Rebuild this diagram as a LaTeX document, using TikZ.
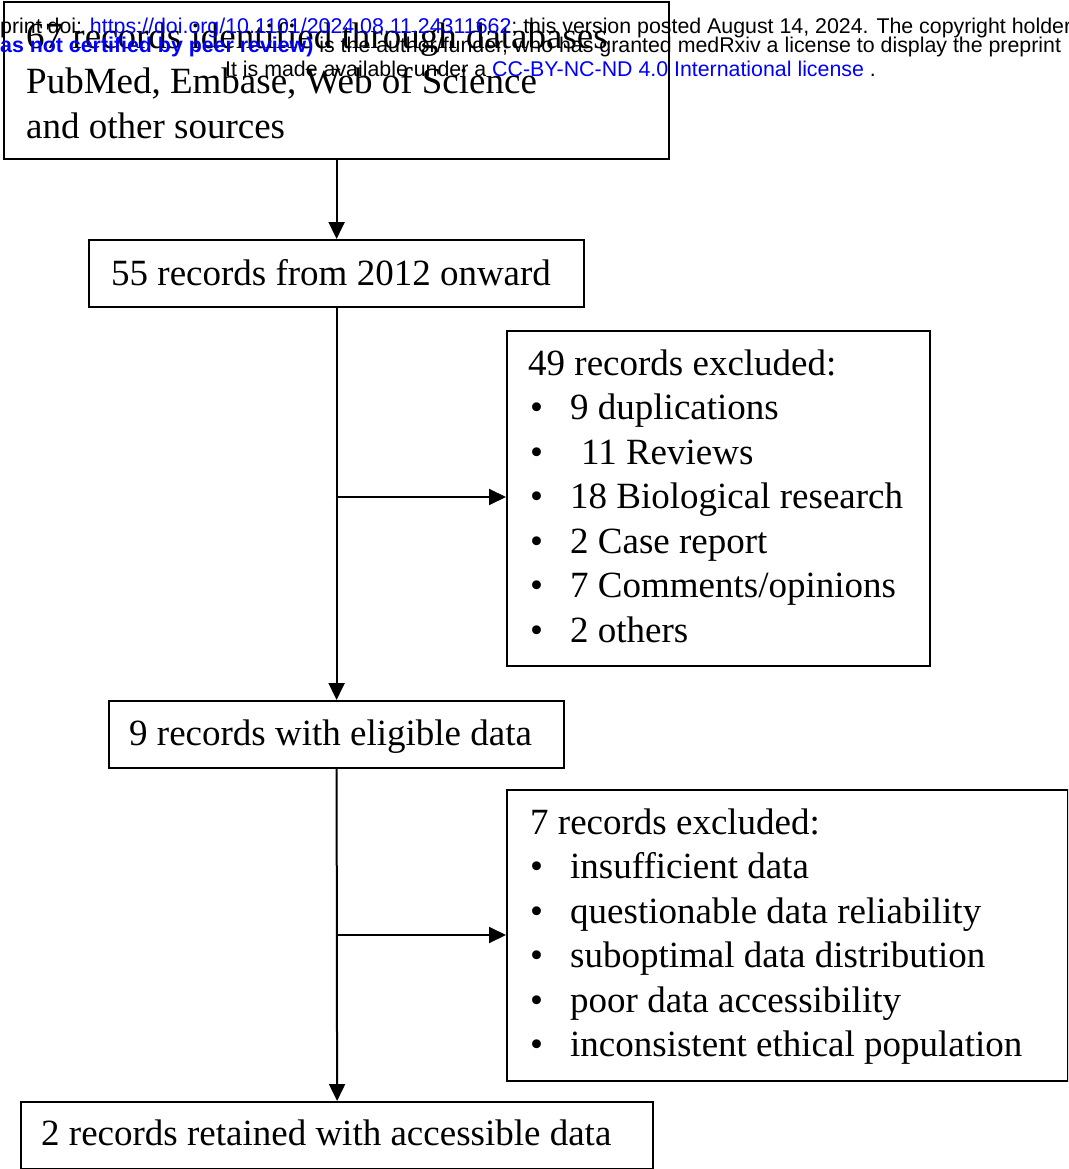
\documentclass[tikz,border=0pt]{standalone}
\usepackage{fontspec}
\setmainfont{Liberation Serif}
\newfontfamily\wmfont{Liberation Sans}
\usetikzlibrary{arrows.meta}
\definecolor{wmblue}{RGB}{0,0,255}
\begin{document}
\begin{tikzpicture}[x=1pt,y=-1pt,
  box/.style={draw, line width=2.2pt, rectangle, anchor=north west, inner sep=0pt},
  txt/.style={anchor=base west, inner sep=0pt, font=\fontsize{37}{44}\selectfont},
  arr/.style={line width=2pt, -{Triangle[length=17pt,width=16pt]}},
  wm/.style={anchor=base west, inner sep=0pt, font=\wmfont\fontsize{21.35}{24}\selectfont}]
\useasboundingbox (0,0) rectangle (1068,1169);
\begin{scope}
\clip (0,0) rectangle (1068,1169);
% boxes
\node[box, minimum width=665pt, minimum height=157pt] (b1) at (3,1) {};
\node[box, minimum width=495pt, minimum height=67pt] (b2) at (88,239) {};
\node[box, minimum width=423pt, minimum height=335pt] (b3) at (506,330) {};
\node[box, minimum width=455pt, minimum height=67pt] (b4) at (108,700) {};
\node[box, minimum width=561pt, minimum height=291pt] (b5) at (506,789) {};
\node[box, minimum width=632pt, minimum height=67pt] (b6) at (20,1101) {};
% texts
\node[txt] (t1a) at (26,49) {67 records identified through databases};
\node[txt] (t1b) at (26,94) {PubMed, Embase, Web of Science};
\node[txt] (t1c) at (26,139) {and other sources};
\node[txt] (t2) at (111,285) {55 records from 2012 onward};
\node[txt] (t3) at (528,375) {49 records excluded:};
\foreach \y/\s/\xx in {419.5/9 duplications/570, 464/11 Reviews/581, 508.5/18 Biological research/570, 553/2 Case report/570, 597.5/7 Comments\slash opinions/570, 642/2 others/570}{
  \node[txt] at (530,\y) {•};
  \node[txt] at (\xx,\y) {\s};
}
\node[txt] (t4) at (129,745) {9 records with eligible data};
\node[txt] (t5) at (530,834) {7 records excluded:};
\foreach \y/\s in {878.5/insufficient data, 923/questionable data reliability, 967.5/suboptimal data distribution, 1012/poor data accessibility, 1056.5/inconsistent ethical population}{
  \node[txt] at (530,\y) {•};
  \node[txt] at (570,\y) {\s};
}
\node[txt] (t6) at (41,1145) {2 records retained with accessible data};
% connectors
\draw[arr] (b1.south) -- (b2.north);
\draw[arr] (b2.south) -- (b4.north);
\coordinate (j1) at (335.5,497);
\draw[arr] (j1) -- (j1 -| b3.west);
\draw[arr] (b4.south) -- (b6.north);
\coordinate (j2) at (335.5,935);
\draw[arr] (j2) -- (j2 -| b5.west);
% watermark
\node[wm] (wm1) at (0,34) {print doi: \textcolor{wmblue}{https://doi.org/10.1101/2024.08.11.24311662}; this version posted August 14, 2024. The copyright holder};
\node[wm] (wm2) at (0,53) {\textcolor{wmblue}{\bfseries as not certified by peer review)} is the author/funder, who has granted medRxiv a license to display the preprint};
\node[wm] (wm3) at (225,77) {It is made available under a \textcolor{wmblue}{CC-BY-NC-ND 4.0 International license} .};
\end{scope}
\end{tikzpicture}
\end{document}
